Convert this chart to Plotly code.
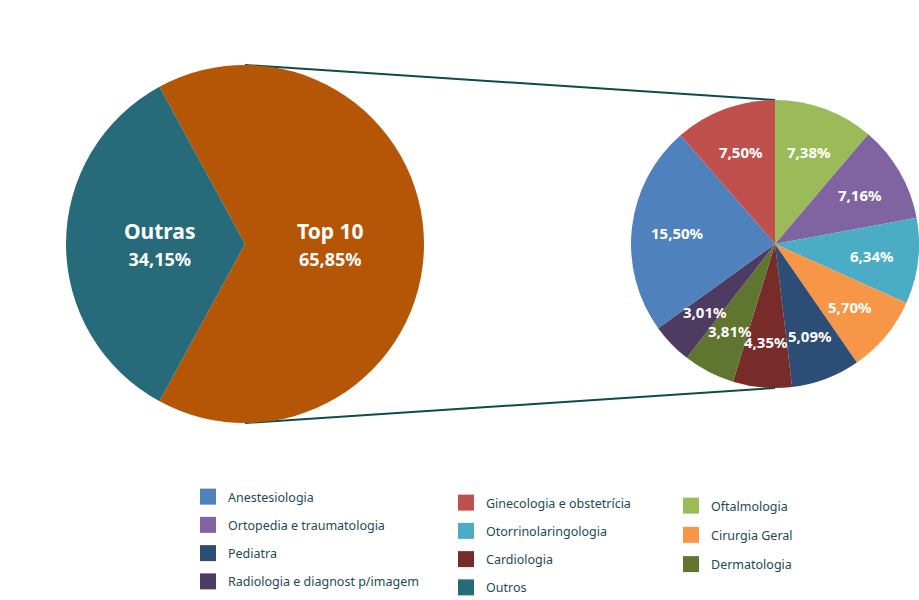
import math
import plotly.graph_objects as go

# ---- data ----
big_labels = ["Top 10", "Outras"]
big_values = [65.85, 34.15]
big_colors = ["#b55606", "#276a7a"]

top_labels = ["Oftalmologia", "Ortopedia e traumatologia", "Otorrinolaringologia",
              "Cirurgia Geral", "Pediatra", "Cardiologia", "Dermatologia",
              "Radiologia e diagnost p/imagem", "Anestesiologia",
              "Ginecologia e obstetrícia"]
top_values = [7.38, 7.16, 6.34, 5.70, 5.09, 4.35, 3.81, 3.01, 15.50, 7.50]
top_colors = ["#9bbb59", "#8064a2", "#4bacc6", "#f79646", "#2c4d75",
              "#772c2a", "#5f7530", "#4d3b62", "#4f81bd", "#c0504d"]

legend_cols = [
    ["Anestesiologia", "Ortopedia e traumatologia", "Pediatra", "Radiologia e diagnost p/imagem"],
    ["Ginecologia e obstetrícia", "Otorrinolaringologia", "Cardiologia", "Outros"],
    ["Oftalmologia", "Cirurgia Geral", "Dermatologia"],
]
color_map = dict(zip(top_labels, top_colors))
color_map["Outros"] = big_colors[1]


def fmt(v):
    return f"{v:.2f}".replace(".", ",") + "%"


W, H = 919, 600
FONT = "Noto Sans"
TXT = "#1d4b55"

# pie domains (pixels -> paper)
L = dict(x0=66, x1=424, y0=65, y1=423)
R = dict(x0=631, x1=919, y0=100, y1=388)


def dom(d):
    return dict(x=[d["x0"] / W, d["x1"] / W], y=[1 - d["y1"] / H, 1 - d["y0"] / H])


def geom(d):
    return (d["x0"] + d["x1"]) / 2, (d["y0"] + d["y1"]) / 2, (d["x1"] - d["x0"]) / 2


def slice_labels(d, rotation, values, texts, frac, size):
    """Place a label at the middle angle of each slice (clockwise from rotation)."""
    cx, cy, r = geom(d)
    tot = sum(values)
    out = []
    start = rotation
    for val, t in zip(values, texts):
        span = val / tot * 360
        mid = math.radians(start + span / 2)
        px = cx + frac * r * math.sin(mid)
        py = cy - frac * r * math.cos(mid)
        out.append(dict(x=px / W, y=1 - py / H, xref="paper", yref="paper",
                        showarrow=False, xanchor="center", yanchor="middle",
                        text=t, font=dict(family=FONT, size=size, color="white")))
        start += span
    return out


fig = go.Figure()

# Top 10 slice centred on the right (3 o'clock), Outras on the left
total = sum(big_values)
top_share_deg = big_values[0] / total * 360
big_rotation = 90 - top_share_deg / 2

fig.add_trace(go.Pie(
    labels=big_labels, values=big_values, sort=False, direction="clockwise",
    rotation=big_rotation,
    marker=dict(colors=big_colors, line=dict(width=0)),
    text=[fmt(v) for v in big_values], textinfo="none",
    domain=dom(L), showlegend=False, hoverinfo="label+text",
))

fig.add_trace(go.Pie(
    labels=top_labels, values=top_values, sort=False, direction="clockwise",
    rotation=0,
    marker=dict(colors=top_colors, line=dict(width=0)),
    text=[fmt(v) for v in top_values], textinfo="none",
    domain=dom(R), showlegend=False, hoverinfo="label+text",
))

annotations = slice_labels(
    L, big_rotation, big_values,
    [f"<b>{lab}</b><br><span style='font-size:18px'><b>{fmt(v)}</b></span>"
     for lab, v in zip(big_labels, big_values)],
    0.48, 21)
annotations += slice_labels(
    R, 0, top_values, [f"<b>{fmt(v)}</b>" for v in top_values], 0.68, 15)

# legend entries (three columns)
legend_pos = [(188, 482), (446, 488), (671, 491)]
for i, col in enumerate(legend_cols):
    lname = "legend" if i == 0 else f"legend{i+1}"
    for lab in col:
        fig.add_trace(go.Scatter(
            x=[None], y=[None], mode="markers", name=lab,
            marker=dict(symbol="square", size=16, color=color_map[lab]),
            legend=lname, legendgroup=lab, showlegend=True,
        ))

legend_common = dict(font=dict(family=FONT, size=12.5, color=TXT),
                     bgcolor="rgba(0,0,0,0)", orientation="v",
                     xanchor="left", yanchor="top",
                     itemclick=False, itemdoubleclick=False)
gaps = [9, 9, 10]
layout_legends = {}
for i, (lx, ly) in enumerate(legend_pos):
    lname = "legend" if i == 0 else f"legend{i+1}"
    layout_legends[lname] = dict(x=lx / W, y=1 - ly / H, tracegroupgap=gaps[i],
                                 **legend_common)

# connector lines from top/bottom of big pie to top/bottom of small pie
lcx, _, _ = geom(L)
rcx, _, _ = geom(R)
shapes = [
    dict(type="line", xref="paper", yref="paper", layer="below",
         x0=lcx / W, y0=1 - L["y0"] / H, x1=rcx / W, y1=1 - R["y0"] / H,
         line=dict(color="#0f4a4d", width=2)),
    dict(type="line", xref="paper", yref="paper", layer="below",
         x0=lcx / W, y0=1 - L["y1"] / H, x1=rcx / W, y1=1 - R["y1"] / H,
         line=dict(color="#0f4a4d", width=2)),
]

fig.update_layout(
    width=W, height=H, margin=dict(l=0, r=0, t=0, b=0, autoexpand=False),
    paper_bgcolor="white", plot_bgcolor="white",
    xaxis=dict(visible=False), yaxis=dict(visible=False),
    shapes=shapes, annotations=annotations, **layout_legends,
)

fig.write_html("out.html")
